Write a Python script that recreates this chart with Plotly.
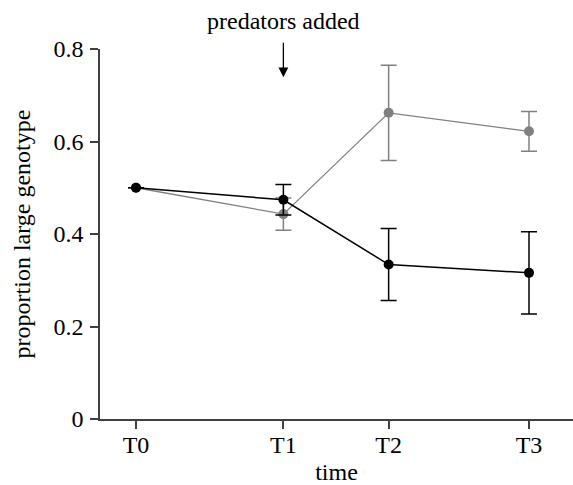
import plotly.graph_objects as go

time_labels = ["T0", "T1", "T2", "T3"]
time_days = [0, 21, 36, 56]

gray_mean = [0.5, 0.443, 0.662, 0.622]
gray_err = [0, 0.035, 0.103, 0.043]

black_mean = [0.5, 0.474, 0.334, 0.316]
black_err = [0, 0.033, 0.078, 0.089]

y_ticks = [0, 0.2, 0.4, 0.6, 0.8]
y_ticktext = ["0", "0.2", "0.4", "0.6", "0.8"]

FONT = "Liberation Serif"
FS = 24
AX = "#404040"
GRAY = "#808080"

fig = go.Figure()
fig.add_trace(go.Scatter(
    x=time_days, y=gray_mean, mode="lines+markers",
    line=dict(color=GRAY, width=1.3),
    marker=dict(color=GRAY, size=10),
    error_y=dict(type="data", array=gray_err, color=GRAY, thickness=1.5, width=8),
    showlegend=False, cliponaxis=False,
))
fig.add_trace(go.Scatter(
    x=time_days, y=black_mean, mode="lines+markers",
    line=dict(color="black", width=1.5),
    marker=dict(color="black", size=10),
    error_y=dict(type="data", array=black_err, color="black", thickness=1.5, width=8),
    showlegend=False, cliponaxis=False,
))

fig.add_annotation(
    x=time_days[1], xref="x", y=1.075, yref="paper",
    text="predators added", showarrow=False,
    font=dict(family=FONT, size=FS, color="black"),
    xanchor="center", yanchor="middle",
)
fig.add_annotation(
    x=time_days[1], xref="x", y=0.739, yref="y",
    ax=0, ay=-36, axref="pixel", ayref="pixel",
    text="", showarrow=True, arrowhead=2, arrowsize=1.5, arrowwidth=1.3,
    arrowcolor="black",
)

fig.update_layout(
    width=573, height=485,
    margin=dict(l=100, r=0, t=49, b=66),
    paper_bgcolor="white", plot_bgcolor="white",
    font=dict(family=FONT, size=FS, color="black"),
    xaxis=dict(
        range=[-5.13, 62.27],
        tickvals=time_days, ticktext=time_labels,
        showgrid=False, zeroline=False,
        showline=True, linecolor=AX, linewidth=1.5,
        ticks="outside", ticklen=8, tickwidth=1.5, tickcolor=AX,
        ticklabelstandoff=-5,
        title=dict(text="time", font=dict(family=FONT, size=FS), standoff=8),
        tickfont=dict(family=FONT, size=FS),
        automargin=False,
    ),
    yaxis=dict(
        range=[0, 0.8],
        tickvals=y_ticks, ticktext=y_ticktext,
        showgrid=False, zeroline=False,
        showline=True, linecolor=AX, linewidth=1.5,
        ticks="outside", ticklen=8, tickwidth=1.5, tickcolor=AX,
        ticklabelstandoff=2,
        title=dict(text="proportion large genotype", font=dict(family=FONT, size=FS), standoff=16),
        tickfont=dict(family=FONT, size=FS),
        automargin=False,
    ),
)

fig.write_html("out.html", config={"displayModeBar": False},
               post_script="document.body.style.margin='0';")
